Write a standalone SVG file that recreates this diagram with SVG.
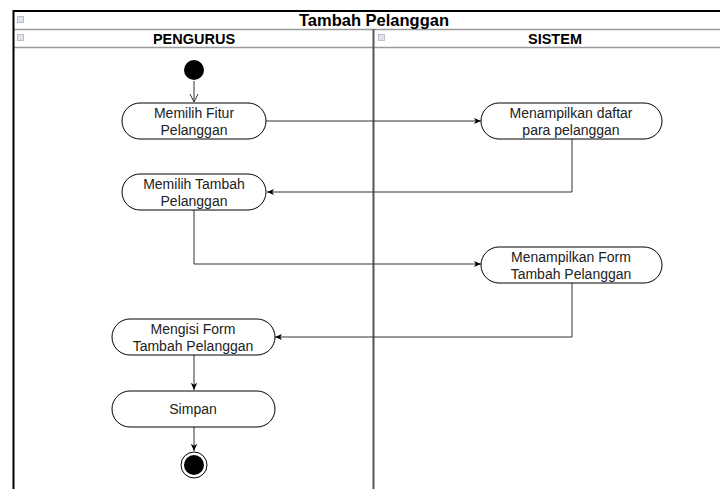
<svg xmlns="http://www.w3.org/2000/svg" width="720" height="489" viewBox="0 0 720 489">
  <style>
    .node rect { fill: #ffffff; stroke: #000000; stroke-width: 1; }
    .node text { font-family: "Liberation Sans", Arial, sans-serif; font-size: 14px; fill: #222222; text-anchor: middle; }
    .hdr { font-family: "Liberation Sans", Arial, sans-serif; font-weight: bold; fill: #000000; text-anchor: middle; }
    .edge { fill: none; stroke: #333333; stroke-width: 1; }
    .icon { fill: #dfe3ea; stroke: #b8c0cc; stroke-width: 1; }
  </style>
  <defs>
    <marker id="arrow" viewBox="0 0 10 10" refX="9" refY="5" markerWidth="8" markerHeight="8" orient="auto" markerUnits="userSpaceOnUse">
      <path d="M0,1 L9,5 L0,9 L2.5,5 Z" fill="#000000"/>
    </marker>
    <marker id="open" viewBox="0 0 10 10" refX="9" refY="5" markerWidth="10" markerHeight="10" orient="auto" markerUnits="userSpaceOnUse">
      <path d="M1,1 L9,5 L1,9" fill="none" stroke="#333333" stroke-width="1"/>
    </marker>
  </defs>

  <rect width="720" height="489" fill="#ffffff"/>

  <!-- swimlane frame -->
  <g id="frame">
    <line x1="14" y1="29.5" x2="720" y2="29.5" stroke="#9a9a9a" stroke-width="1.5"/>
    <line x1="14" y1="47.5" x2="720" y2="47.5" stroke="#9a9a9a" stroke-width="1.5"/>
    <line x1="373.5" y1="29" x2="373.5" y2="489" stroke="#555555" stroke-width="2"/>
    <path d="M13.5,489 V11 H720" fill="none" stroke="#000000" stroke-width="2"/>
    <rect class="icon" x="17.5" y="16.5" width="6" height="6"/>
    <rect class="icon" x="17.5" y="34.5" width="6" height="6"/>
    <rect class="icon" x="378.5" y="34.5" width="6" height="6"/>
    <text class="hdr" x="374" y="26" font-size="16.5">Tambah Pelanggan</text>
    <text class="hdr" x="194" y="44" font-size="14.5">PENGURUS</text>
    <text class="hdr" x="555" y="44" font-size="14.5">SISTEM</text>
  </g>

  <!-- control flow -->
  <g id="edges">
    <line class="edge" x1="194" y1="81" x2="194" y2="102" marker-end="url(#open)"/>
    <line class="edge" x1="266" y1="121" x2="481" y2="121" marker-end="url(#arrow)"/>
    <polyline class="edge" points="572,139 572,192 267,192" marker-end="url(#arrow)"/>
    <polyline class="edge" points="194,210 194,264 481,264" marker-end="url(#arrow)"/>
    <polyline class="edge" points="572,283 572,337 275,337" marker-end="url(#arrow)"/>
    <line class="edge" x1="194" y1="355" x2="194" y2="390" marker-end="url(#arrow)"/>
    <line class="edge" x1="194" y1="427" x2="194" y2="451" marker-end="url(#arrow)"/>
  </g>

  <g id="start">
    <circle cx="194" cy="70" r="10" fill="#000000"/>
  </g>

  <g id="pilih-fitur" class="node">
    <rect x="122" y="103" width="144" height="36" rx="18"/>
    <text x="194" y="118">Memilih Fitur</text>
    <text x="194" y="135">Pelanggan</text>
  </g>

  <g id="tampil-daftar" class="node">
    <rect x="481" y="103" width="181" height="36" rx="18"/>
    <text x="571" y="118">Menampilkan daftar</text>
    <text x="571" y="135">para pelanggan</text>
  </g>

  <g id="pilih-tambah" class="node">
    <rect x="122" y="174" width="144" height="36" rx="18"/>
    <text x="194" y="189">Memilih Tambah</text>
    <text x="194" y="206">Pelanggan</text>
  </g>

  <g id="tampil-form" class="node">
    <rect x="481" y="247" width="181" height="36" rx="18"/>
    <text x="571" y="262">Menampilkan Form</text>
    <text x="571" y="279">Tambah Pelanggan</text>
  </g>

  <g id="isi-form" class="node">
    <rect x="112" y="319" width="163" height="36" rx="18"/>
    <text x="193" y="334">Mengisi Form</text>
    <text x="193" y="351">Tambah Pelanggan</text>
  </g>

  <g id="simpan" class="node">
    <rect x="112" y="391" width="163" height="36" rx="18"/>
    <text x="193" y="414">Simpan</text>
  </g>

  <g id="end">
    <circle cx="194" cy="465" r="13" fill="#ffffff" stroke="#000000" stroke-width="1"/>
    <circle cx="194" cy="465" r="10" fill="#000000"/>
  </g>
</svg>
